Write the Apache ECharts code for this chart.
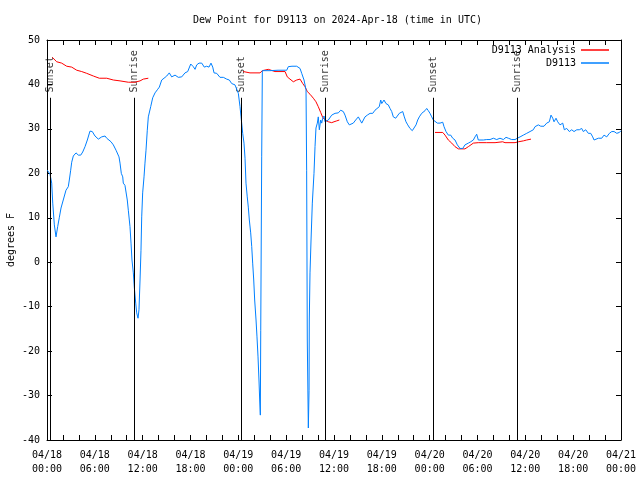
<!DOCTYPE html>
<html>
<head>
<meta charset="utf-8">
<script src="https://cdn.jsdelivr.net/npm/echarts@6/dist/echarts.min.js"></script>
<style>html,body{margin:0;padding:0;background:#fff}#c{width:640px;height:480px}</style>
</head>
<body>
<div id="c"></div>
<script>
// ---- data (hours since 2024-04-18 00:00 UTC) ----
var xTickLabels = ['04/18\n00:00','04/18\n06:00','04/18\n12:00','04/18\n18:00','04/19\n00:00','04/19\n06:00','04/19\n12:00','04/19\n18:00','04/20\n00:00','04/20\n06:00','04/20\n12:00','04/20\n18:00','04/21\n00:00'];

var obsHours = [0.04,0.38,0.59,0.72,0.92,1.13,1.34,1.54,1.76,2.04,2.38,2.67,2.80,2.97,3.10,3.30,3.64,3.93,4.23,4.48,4.77,5.06,5.39,5.68,6.02,6.44,6.86,7.28,7.49,7.69,8.03,8.32,8.66,8.87,9.03,9.16,9.32,9.50,9.57,9.78,9.91,10.07,10.20,10.41,10.54,10.66,10.83,10.95,11.13,11.25,11.42,11.54,11.67,11.79,11.88,12.00,12.17,12.29,12.42,12.58,12.71,13.01,13.26,13.55,13.84,14.09,14.39,14.68,15.02,15.34,15.64,16.06,16.47,16.90,17.31,17.65,18.03,18.35,18.57,18.78,19.07,19.41,19.73,20.03,20.32,20.57,20.79,20.95,21.29,21.70,22.12,22.54,22.87,23.17,23.58,23.80,24.00,24.21,24.34,24.42,24.55,24.71,24.84,24.96,25.12,25.25,25.38,25.55,25.68,25.80,25.93,26.05,26.22,26.34,26.47,26.59,26.68,26.76,26.81,26.93,27.01,27.97,28.98,30.07,30.27,30.73,31.32,31.74,31.95,32.24,32.49,32.57,32.65,32.78,32.87,32.90,32.99,33.12,33.28,33.49,33.62,33.74,33.91,34.03,34.16,34.33,34.46,34.58,34.75,34.87,35.29,35.71,36.13,36.54,36.84,37.17,37.38,37.67,37.92,38.13,38.42,38.72,39.05,39.26,39.48,39.68,39.89,40.18,40.52,40.86,41.14,41.36,41.68,41.86,41.99,42.27,42.52,42.81,43.03,43.24,43.44,43.74,43.99,44.19,44.37,44.62,44.82,45.03,45.25,45.53,45.82,46.04,46.29,46.50,46.70,47.00,47.20,47.42,47.63,47.83,48.04,48.26,48.46,48.67,48.96,49.30,49.64,49.80,50.05,50.34,50.64,50.89,51.18,51.47,51.81,52.15,52.43,52.85,53.15,53.48,53.69,53.90,54.10,54.32,54.73,55.16,55.57,55.99,56.41,56.82,57.24,57.58,57.87,58.29,58.71,59.00,59.34,59.75,60.17,60.59,61.00,61.22,61.43,61.63,61.93,62.34,62.68,63.01,63.22,63.44,63.60,63.85,64.06,64.35,64.69,64.89,65.19,65.52,65.82,66.11,66.45,66.77,67.07,67.27,67.58,67.90,68.20,68.45,68.62,68.87,69.16,69.58,69.87,70.21,70.54,70.84,71.13,71.47,71.80,72.0];
var obsValues = [20.7,19.8,17.8,13.3,8.4,5.7,8,10,12.2,14,16.2,17,18.5,20.7,22.5,23.9,24.6,24.1,24.1,24.8,26,27.5,29.5,29.4,28.4,27.7,28.2,28.4,27.9,27.5,27.1,26.4,25.2,24.9,23.7,22.3,20,19.2,17.8,17.3,17.6,14,11.7,8,4.3,0.5,-2.4,-5.6,-9.2,-11.4,-12.6,-10.7,-4,2.7,10.2,15.6,19.2,22.3,25.2,29.7,32.7,35,37,38.1,38.8,39.4,41,41.4,41.9,42.6,41.7,42.1,41.6,41.7,42.6,42.9,44.6,44,43.4,44.4,44.8,44.8,43.9,44.1,43.9,44.8,43.9,42.6,42.5,41.6,41.6,41.2,41,40.2,39.9,39.5,38,35,32.7,31.3,29,26.8,23.4,17.8,14.7,12.4,9.5,6.6,3.5,-0.2,-4,-8.5,-13,-16.8,-21.3,-26.5,-31,-34.4,-15.3,23.7,43.1,43.1,43.2,43.2,44,44.1,44.1,43.6,42.5,41,38.8,20.7,-17.5,-37.3,-28.8,-13,-2.4,5,13.3,20,26,30.2,31.3,32.7,29.8,32,31.3,32.4,32.9,31.6,32,33.1,33.5,33.6,34.2,33.9,33.1,31.6,30.9,30.5,31.3,32,32.7,32.4,31.3,31.6,32.7,33.1,33.5,33.5,34.2,33.9,35,36.5,35.7,36.5,35.7,35.4,34.6,33.9,32.7,32.4,32.6,33.5,33.1,33.9,32.7,31.6,30.9,30.1,29.6,29.9,30.9,32,32.7,33.5,33.9,34.1,34.6,34.1,33.5,32.7,32,31.8,31.3,31.3,31.5,30.5,29.4,28.6,28.6,27.9,27.5,26.4,25.6,25.6,26.4,26.8,27.1,27.5,28.2,28.8,27.5,27.1,27.5,27.6,27.6,27.9,27.6,27.9,27.6,28.1,27.9,27.6,27.6,27.9,28.2,28.6,29,29.4,29.8,30.5,30.1,30.9,30.6,30.6,31.3,31.6,33.1,32.4,31.6,32.4,31.6,30.9,31.3,29.8,30.1,29.4,29.8,29.4,29.8,29.8,30.1,29.4,29.8,29,29,28.2,27.5,27.1,27.9,27.9,28.6,28.2,29,29.4,29.4,29,29.2,29.6];

// analysis: null entries separate the three runs
var anaHours  = [0.66,0.79,1.22,1.84,2.47,3.10,3.73,4.35,4.98,5.81,6.56,7.49,8.32,9.16,10.20,11.04,11.67,12.08,12.71, 18, 24.62,25.46,26.72,27.01,27.76,27.97,28.60,29.86,30.14,30.48,30.90,31.32,31.74,32.08,32.36,32.65,32.99,33.41,33.74,34.03,34.33,34.58,34.87,35.29,35.71,36.00,36.34,36.67, 42, 48.67,49.64,49.93,50.34,50.77,51.18,51.60,52.43,52.85,53.48,54.10,55.16,56.20,56.41,57.16,57.45,58.71,59.12,59.75,60.17,60.71];
var anaValues = [46.1,45.7,45.1,44.8,44.1,43.9,43.2,42.9,42.5,41.9,41.4,41.4,41,40.8,40.5,40.5,40.8,41.2,41.4, null, 42.9,42.6,42.6,43.1,43.4,43.1,42.9,42.9,41.7,41.2,40.6,41,41.2,40.2,39.5,38.4,37.8,36.9,36.1,35,33.7,32.6,32,31.6,31.4,31.6,31.8,32, null, 29.2,29.2,28.6,27.5,26.8,26,25.5,25.5,26,26.8,26.9,26.9,26.9,27.1,27.1,26.9,26.9,27.1,27.3,27.5,27.7];

var sunHours  = [0.46, 10.98, 24.42, 34.96, 48.46, 59.0];
var sunLabels = ['Sunset','Sunrise','Sunset','Sunrise','Sunset','Sunrise'];
var sunLineTop = 37;     // value where the marker lines stop
var sunLabelBase = 38.2; // value where the rotated label text starts

// ---- chart ----
var FONT = "'DejaVu Sans Mono', monospace";
function pairs(xs, ys){ return xs.map(function(x,i){ return [x, ys[i] === null ? '-' : ys[i]]; }); }

var chart = echarts.init(document.getElementById('c'), null, {renderer:'canvas'});
var tickCommon = {show:true, inside:true, length:5, lineStyle:{color:'#000', width:1}};
var minorCommon = {show:true, splitNumber:3, length:5, lineStyle:{color:'#000', width:1}};
var option = {
  animation:false,
  backgroundColor:'#fff',
  textStyle:{fontFamily:FONT},
  title:{text:'Dew Point for D9113 on 2024-Apr-18 (time in UTC)', left:188, top:10,
    textStyle:{fontFamily:FONT, fontSize:10, fontWeight:'normal', color:'#000'}},
  legend:[
    {data:['D9113 Analysis'], right:31, top:45, padding:0, orient:'vertical', align:'right', icon:'rect', itemWidth:28, itemHeight:1.5,
      textStyle:{fontFamily:FONT, fontSize:10, color:'#000'}, selectedMode:false},
    {data:['D9113'], right:31, top:58, padding:0, orient:'vertical', align:'right', icon:'rect', itemWidth:28, itemHeight:1.5,
      textStyle:{fontFamily:FONT, fontSize:10, color:'#000'}, selectedMode:false}
  ],
  grid:{left:47, right:19, top:40, bottom:40, containLabel:false, outerBoundsMode:'none'},
  xAxis:[
    {type:'value', min:0, max:72, interval:6, position:'bottom',
      axisLine:{show:true, onZero:false, lineStyle:{color:'#000', width:1}},
      axisTick:tickCommon, minorTick:minorCommon, splitLine:{show:false},
      axisLabel:{show:true, margin:8, fontFamily:FONT, fontSize:10, color:'#000', lineHeight:14,
        formatter:function(v){ return xTickLabels[Math.round(v/6)]; }}},
    {type:'value', min:0, max:72, interval:6, position:'top',
      axisLine:{show:true, onZero:false, lineStyle:{color:'#000', width:1}},
      axisTick:tickCommon, minorTick:minorCommon, splitLine:{show:false}, axisLabel:{show:false}}
  ],
  yAxis:[
    {type:'value', min:-40, max:50, interval:10, position:'left',
      name:'degrees F', nameLocation:'middle', nameGap:31, nameRotate:90, nameMoveOverlap:false,
      nameTextStyle:{fontFamily:FONT, fontSize:10, color:'#000'},
      axisLine:{show:true, onZero:false, lineStyle:{color:'#000', width:1}},
      axisTick:tickCommon, splitLine:{show:false},
      axisLabel:{margin:7, fontFamily:FONT, fontSize:10, color:'#000'}},
    {type:'value', min:-40, max:50, interval:10, position:'right',
      axisLine:{show:true, onZero:false, lineStyle:{color:'#000', width:1}},
      axisTick:tickCommon, splitLine:{show:false}, axisLabel:{show:false}}
  ],
  series:[
    {name:'sun', type:'line', data:[], xAxisIndex:0, yAxisIndex:0, silent:true, z:1,
      markLine:{symbol:['none','none'], silent:true, animation:false,
        label:{show:false},
        lineStyle:{color:'#000', width:1, type:'solid'},
        data: sunHours.map(function(h){ return [{coord:[h,-40]},{coord:[h,sunLineTop]}]; })}},
    {name:'sunLabels', type:'scatter', symbolSize:0, silent:true, z:1,
      data: sunHours.map(function(h,i){ return {value:[h, sunLabelBase], name:sunLabels[i]}; }),
      label:{show:true, position:[0,0], rotate:90, align:'left', verticalAlign:'middle',
        formatter:function(p){ return p.name; },
        fontFamily:FONT, fontSize:10, color:'#000'}},
    {name:'D9113 Analysis', type:'line', data:pairs(anaHours, anaValues), showSymbol:false, symbol:'none',
      connectNulls:false, color:'#ff0000', lineStyle:{color:'#ff0000', width:1}, z:2},
    {name:'D9113', type:'line', data:pairs(obsHours, obsValues), showSymbol:false, symbol:'none',
      color:'#0080ff', lineStyle:{color:'#0080ff', width:1}, z:3}
  ]
};
chart.setOption(option);
</script>
</body>
</html>
